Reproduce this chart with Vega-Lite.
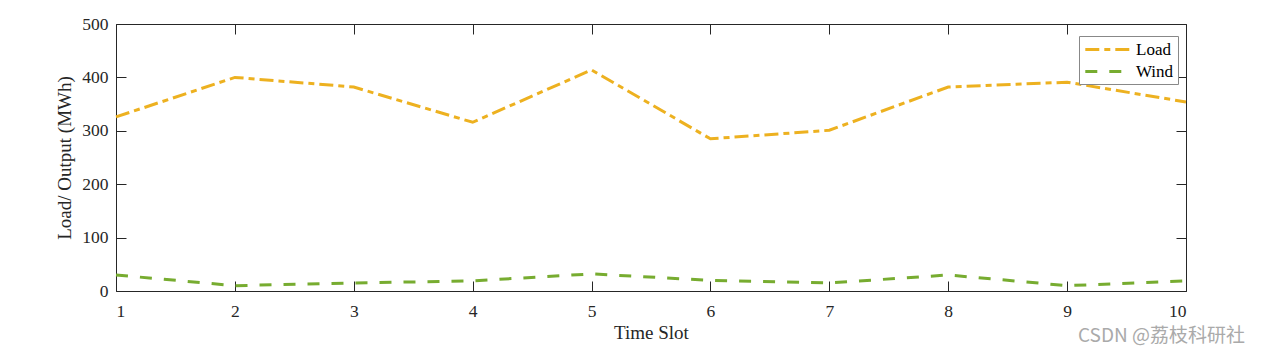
{
  "$schema": "https://vega.github.io/schema/vega-lite/v6.json",
  "autosize": {"type": "none"},
  "padding": {"left": 116, "top": 24, "right": 78, "bottom": 62},
  "width": 1070,
  "height": 267,
  "background": "white",
  "title": {"text": "CSDN @荔枝科研社", "orient": "bottom", "anchor": "end", "font": "Noto Sans CJK SC", "fontSize": 19, "fontWeight": "normal", "color": "#aaaaaa", "dx": 53, "dy": -20},
  "config": {
    "view": {"stroke": null},
    "axis": {"grid": false, "domainColor": "#262626", "tickColor": "#262626", "labelColor": "#262626", "titleColor": "#262626", "labelFont": "Liberation Serif", "titleFont": "Liberation Serif", "labelFontSize": 17.5, "titleFontSize": 19, "titleFontWeight": "normal", "tickSize": -10, "domainWidth": 1, "tickWidth": 1},
    "legend": {"labelFont": "Liberation Serif", "labelFontSize": 17, "labelColor": "#000"}
  },
  "data": {"values": [
    {"slot": 1, "series": "Load", "value": 326},
    {"slot": 2, "series": "Load", "value": 400},
    {"slot": 3, "series": "Load", "value": 382},
    {"slot": 4, "series": "Load", "value": 316},
    {"slot": 5, "series": "Load", "value": 414},
    {"slot": 6, "series": "Load", "value": 285},
    {"slot": 7, "series": "Load", "value": 301},
    {"slot": 8, "series": "Load", "value": 382},
    {"slot": 9, "series": "Load", "value": 391},
    {"slot": 10, "series": "Load", "value": 354},
    {"slot": 1, "series": "Wind", "value": 30},
    {"slot": 2, "series": "Wind", "value": 10},
    {"slot": 3, "series": "Wind", "value": 15},
    {"slot": 4, "series": "Wind", "value": 19},
    {"slot": 5, "series": "Wind", "value": 32},
    {"slot": 6, "series": "Wind", "value": 20},
    {"slot": 7, "series": "Wind", "value": 15},
    {"slot": 8, "series": "Wind", "value": 30},
    {"slot": 9, "series": "Wind", "value": 10},
    {"slot": 10, "series": "Wind", "value": 19}
  ]},
  "layer": [
    {
      "mark": {"type": "line", "strokeWidth": 3},
      "encoding": {
        "x": {"field": "slot", "type": "quantitative", "scale": {"domain": [1, 10], "nice": false, "zero": false}, "axis": {"orient": "bottom", "title": "Time Slot", "values": [1,2,3,4,5,6,7,8,9,10], "labelPadding": 21, "titlePadding": 4}},
        "y": {"field": "value", "type": "quantitative", "scale": {"domain": [0, 500], "nice": false}, "axis": {"orient": "left", "title": "Load/ Output (MWh)", "values": [0,100,200,300,400,500], "labelPadding": 18, "titlePadding": 7}},
        "color": {"field": "series", "type": "nominal", "scale": {"domain": ["Load", "Wind"], "range": ["#EDB120", "#77AC30"]}, "legend": {"title": null, "orient": "none", "legendX": 963, "legendY": 12, "symbolType": "M-2.9,0H2.9", "symbolSize": 256, "symbolStrokeWidth": 3, "symbolOffset": 16, "strokeColor": "#888", "fillColor": "white", "padding": 4, "rowPadding": 4, "labelOffset": 18}},
        "strokeDash": {"field": "series", "type": "nominal", "scale": {"domain": ["Load", "Wind"], "range": [[14, 5, 6, 5], [12, 12]]}, "legend": {"title": null, "orient": "none", "legendX": 963, "legendY": 12, "symbolType": "M-2.9,0H2.9", "symbolSize": 256, "symbolStrokeWidth": 3, "symbolOffset": 16, "strokeColor": "#888", "fillColor": "white", "padding": 4, "rowPadding": 4, "labelOffset": 18}}
      }
    },
    {
      "mark": {"type": "line", "opacity": 0},
      "encoding": {
        "x": {"field": "slot", "type": "quantitative", "axis": {"orient": "top", "title": null, "labels": false, "values": [1,2,3,4,5,6,7,8,9,10]}},
        "y": {"field": "value", "type": "quantitative", "axis": {"orient": "right", "title": null, "labels": false, "values": [0,100,200,300,400,500]}},
        "detail": {"field": "series"}
      }
    }
  ],
  "resolve": {"axis": {"x": "independent", "y": "independent"}}
}
